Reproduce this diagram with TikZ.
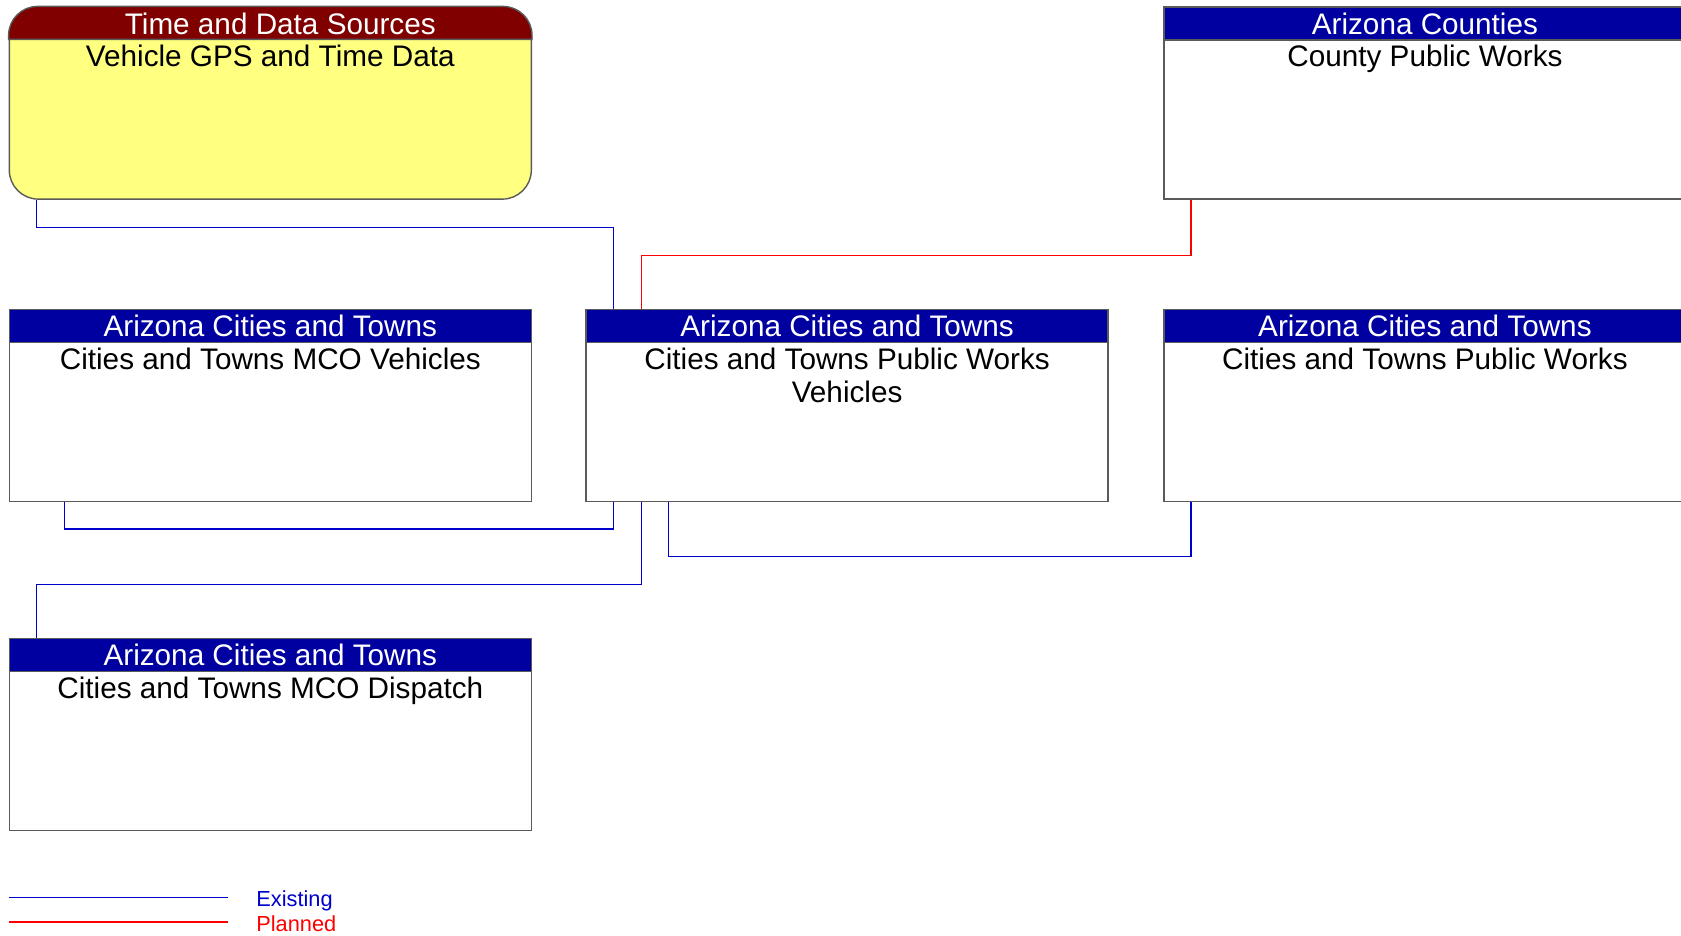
\documentclass[tikz,border=0pt]{standalone}
\usepackage{fontspec}
\setmainfont{Liberation Sans}
\usetikzlibrary{positioning}

\definecolor{hdrblue}{RGB}{0,0,160}
\definecolor{hdrred}{RGB}{128,0,0}
\definecolor{tdsfill}{RGB}{255,255,128}
\definecolor{boxgray}{RGB}{90,90,90}
\definecolor{lineblue}{RGB}{0,0,205}
\definecolor{linered}{RGB}{255,0,0}

\begin{document}
\begin{tikzpicture}[
    x=0.2mm, y=-0.2mm,
    font=\fontsize{16.9}{18.8}\selectfont,
    box/.style={
        draw=boxgray, line width=0.8pt, anchor=north west, fill=white,
        minimum width=104.4mm, minimum height=38.4mm, inner sep=0pt
    },
    hdr/.style={
        draw=boxgray, line width=0.8pt, anchor=north, fill=hdrblue, text=white,
        minimum width=104.4mm, minimum height=6.6mm, inner sep=0pt
    },
    body/.style={text width=96mm, align=flush center, inner sep=0pt},
    exist/.style={draw=lineblue, line width=0.6pt},
    plan/.style={draw=linered, line width=0.6pt},
    legtext/.style={anchor=west, inner sep=0pt, font=\fontsize{12.4}{14}\selectfont}
]

\useasboundingbox (0,0) rectangle (1681,935);
\clip (0,0) rectangle (1681,935);

%% ---- Box corners ----
\coordinate (tds-c)  at (8.6,6.4);
\coordinate (cnt-c)  at (1163.2,6.4);
\coordinate (mcov-c) at (8.6,308.8);
\coordinate (pwv-c)  at (585.4,308.8);
\coordinate (pw-c)   at (1163.2,308.8);
\coordinate (mcod-c) at (8.6,637.9);

%% ---- Boxes ----

% Top row
\node[box, fill=tdsfill, rounded corners=5.8mm] at (tds-c) (tds) {};
\filldraw[fill=hdrred, draw=boxgray, line width=0.8pt]
    ([yshift=-6.6mm]tds.north west) [rounded corners=5.8mm] -- (tds.north west) --
    (tds.north east) [sharp corners] -- ([yshift=-6.6mm]tds.north east) -- cycle;
\node[hdr, draw=none, fill=none, xshift=2mm] at (tds.north) (tds-h) {Time and Data Sources};
\node[body, below=0.8mm of tds-h, xshift=-2mm] (tds-b) {Vehicle GPS and Time Data};

\node[box] at (cnt-c) (cnt) {};
\node[hdr] at (cnt.north) (cnt-h) {Arizona Counties};
\node[body, below=0.8mm of cnt-h] (cnt-b) {County Public Works};

% Middle row
\node[box] at (mcov-c) (mcov) {};
\node[hdr] at (mcov.north) (mcov-h) {Arizona Cities and Towns};
\node[body, below=0.8mm of mcov-h] (mcov-b) {Cities and Towns MCO Vehicles};

\node[box] at (pwv-c) (pwv) {};
\node[hdr] at (pwv.north) (pwv-h) {Arizona Cities and Towns};
\node[body, below=0.8mm of pwv-h] (pwv-b) {Cities and Towns Public Works Vehicles};

\node[box] at (pw-c) (pw) {};
\node[hdr] at (pw.north) (pw-h) {Arizona Cities and Towns};
\node[body, below=0.8mm of pw-h] (pw-b) {Cities and Towns Public Works};

% Bottom row
\node[box] at (mcod-c) (mcod) {};
\node[hdr] at (mcod.north) (mcod-h) {Arizona Cities and Towns};
\node[body, below=0.8mm of mcod-h] (mcod-b) {Cities and Towns MCO Dispatch};

%% ---- Flows ----

% 1. GPS/time data -> PW vehicles
\draw[exist] ([xshift=5.56mm]tds.south west) -- ++(0,-5.58mm)
    -| ([xshift=5.56mm]pwv-h.north west);

% 2. County public works -> PW vehicles (planned)
\draw[plan] ([xshift=5.56mm]cnt.south west) -- ++(0,-11.14mm)
    -| ([xshift=11.14mm]pwv-h.north west);

% 3. MCO vehicles <-> PW vehicles
\draw[exist] ([xshift=11.14mm]mcov.south west) -- ++(0,-5.36mm)
    -| ([xshift=5.56mm]pwv.south west);

% 4. PW vehicles <-> PW
\draw[exist] ([xshift=16.7mm]pwv.south west) -- ++(0,-10.9mm)
    -| ([xshift=5.56mm]pw.south west);

% 5. PW vehicles <-> MCO dispatch
\draw[exist] ([xshift=11.14mm]pwv.south west) -- ++(0,-16.5mm)
    -| ([xshift=5.56mm]mcod-h.north west);

%% ---- Legend ----
\coordinate (leg-e1) at (8.6,897.3);
\coordinate (leg-e2) at (228,897.3);
\coordinate (leg-p1) at (8.6,922);
\coordinate (leg-p2) at (228,922);
\draw[exist] (leg-e1) -- (leg-e2);
\draw[plan]  (leg-p1) -- (leg-p2);
\node[legtext, text=lineblue] at (256,901) (leg-e) {Existing};
\node[legtext, text=linered]  at (256,924) (leg-p) {Planned};

\end{tikzpicture}
\end{document}
